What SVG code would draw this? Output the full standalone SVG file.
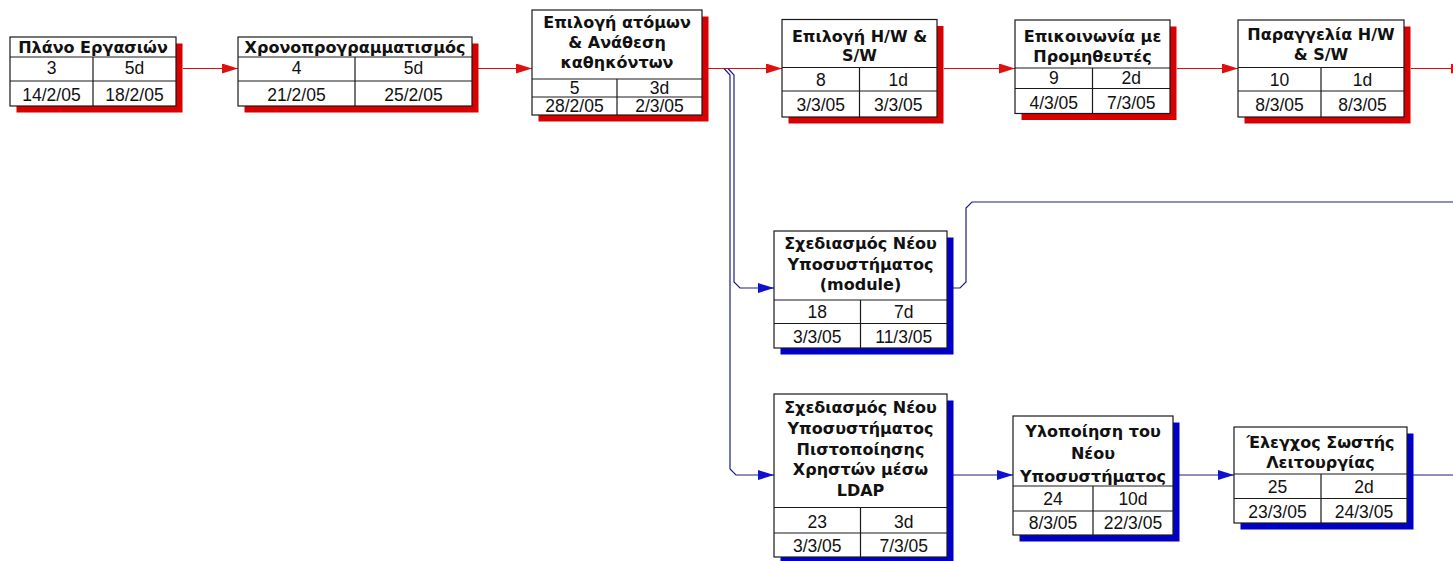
<svg xmlns="http://www.w3.org/2000/svg" width="1453" height="561" viewBox="0 0 1453 561">
  <style>
    .box { fill: #ffffff; stroke: #1a1a1a; stroke-width: 1.2; }
    .grid { fill: none; stroke: #1a1a1a; stroke-width: 1.2; }
    .rs { fill: #d80000; }
    .bs { fill: #0000c8; }
    .t { font-family: "DejaVu Sans", Verdana, sans-serif; font-weight: bold; font-size: 16px; text-anchor: middle; fill: #111; }
    .d { font-family: "Liberation Sans", Arial, sans-serif; font-size: 17.5px; text-anchor: middle; fill: #111; }
    .cr { fill: none; stroke: #d81010; stroke-width: 1.2; }
    .cb { fill: none; stroke: #1e1e80; stroke-width: 1.2; }
  </style>
  <defs>
    <marker id="arrowRed" markerUnits="userSpaceOnUse" markerWidth="17" markerHeight="11" refX="16" refY="5" orient="auto">
      <path d="M0,0 L16,5 L0,10 z" fill="#e01010"/>
    </marker>
    <marker id="arrowBlue" markerUnits="userSpaceOnUse" markerWidth="17" markerHeight="11" refX="16" refY="5" orient="auto">
      <path d="M0,0 L16,5 L0,10 z" fill="#1010d0"/>
    </marker>
  </defs>
  <rect width="1453" height="561" fill="#ffffff"/>

  <!-- connectors -->
  <g id="connectors">
    <path class="cr" d="M183 68.5 H238" marker-end="url(#arrowRed)"/>
    <path class="cr" d="M478 68.5 H532" marker-end="url(#arrowRed)"/>
    <path class="cr" d="M708 68.5 H782" marker-end="url(#arrowRed)"/>
    <path class="cr" d="M944 68.5 H1015" marker-end="url(#arrowRed)"/>
    <path class="cr" d="M1177 68.5 H1238" marker-end="url(#arrowRed)"/>
    <path class="cr" d="M1411 68.5 H1467" marker-end="url(#arrowRed)"/>
    <path class="cb" d="M728 68.5 L734 75 V282 L740 288 H774" marker-end="url(#arrowBlue)"/>
    <path class="cb" d="M724 68.5 L730 75 V469 L736 475 H774" marker-end="url(#arrowBlue)"/>
    <path class="cb" d="M953 288 H960 L966 282 V208 L972 202 H1453"/>
    <path class="cb" d="M953 475 H1013" marker-end="url(#arrowBlue)"/>
    <path class="cb" d="M1179 475 H1234" marker-end="url(#arrowBlue)"/>
    <path class="cb" d="M1413 475 H1453"/>
  </g>

  <!-- task 3 -->
  <g id="task3">
    <rect class="rs" x="16.5" y="43.5" width="166" height="69"/>
    <rect class="box" x="10" y="37" width="166" height="69"/>
    <path class="grid" d="M10 57 H176 M10 81 H176 M93 57 V106"/>
    <text class="t" x="93" y="52.5">Πλάνο Εργασιών</text>
    <text class="d" x="51.5" y="74">3</text>
    <text class="d" x="134.5" y="74">5d</text>
    <text class="d" x="51.5" y="101">14/2/05</text>
    <text class="d" x="134.5" y="101">18/2/05</text>
  </g>

  <!-- task 4 -->
  <g id="task4">
    <rect class="rs" x="244.5" y="43.5" width="234" height="69"/>
    <rect class="box" x="238" y="37" width="234" height="69"/>
    <path class="grid" d="M238 57 H472 M238 81 H472 M355 57 V106"/>
    <text class="t" x="355" y="52.5">Χρονοπρογραμματισμός</text>
    <text class="d" x="296.5" y="74">4</text>
    <text class="d" x="413.5" y="74">5d</text>
    <text class="d" x="296.5" y="101">21/2/05</text>
    <text class="d" x="413.5" y="101">25/2/05</text>
  </g>

  <!-- task 5 -->
  <g id="task5">
    <rect class="rs" x="538.5" y="16.5" width="170" height="105"/>
    <rect class="box" x="532" y="10" width="170" height="105"/>
    <path class="grid" d="M532 79 H702 M532 97 H702 M617 79 V115"/>
    <text class="t" x="617" y="27.5">Επιλογή ατόμων</text>
    <text class="t" x="617" y="47.5">&amp; Ανάθεση</text>
    <text class="t" x="617" y="68">καθηκόντων</text>
    <text class="d" x="574.5" y="93.5">5</text>
    <text class="d" x="659.5" y="93.5">3d</text>
    <text class="d" x="574.5" y="111.5">28/2/05</text>
    <text class="d" x="659.5" y="111.5">2/3/05</text>
  </g>

  <!-- task 8 -->
  <g id="task8">
    <rect class="rs" x="788.5" y="26" width="155" height="97.5"/>
    <rect class="box" x="782" y="19.5" width="155" height="97.5"/>
    <path class="grid" d="M782 67.5 H937 M782 91 H937 M859.5 67.5 V117"/>
    <text class="t" x="859.5" y="41.5">Επιλογή H/W &amp;</text>
    <text class="t" x="859.5" y="60.5">S/W</text>
    <text class="d" x="820.75" y="85.5">8</text>
    <text class="d" x="898.25" y="85.5">1d</text>
    <text class="d" x="820.75" y="111">3/3/05</text>
    <text class="d" x="898.25" y="111">3/3/05</text>
  </g>

  <!-- task 9 -->
  <g id="task9">
    <rect class="rs" x="1021.5" y="26.5" width="155" height="93.5"/>
    <rect class="box" x="1015" y="20" width="155" height="93.5"/>
    <path class="grid" d="M1015 68 H1170 M1015 88.5 H1170 M1092.5 68 V113.5"/>
    <text class="t" x="1092.5" y="41.5">Επικοινωνία με</text>
    <text class="t" x="1092.5" y="61.5">Προμηθευτές</text>
    <text class="d" x="1053.75" y="84">9</text>
    <text class="d" x="1131.25" y="84">2d</text>
    <text class="d" x="1053.75" y="109">4/3/05</text>
    <text class="d" x="1131.25" y="109">7/3/05</text>
  </g>

  <!-- task 10 -->
  <g id="task10">
    <rect class="rs" x="1244.5" y="26.5" width="166" height="97"/>
    <rect class="box" x="1238" y="20" width="166" height="97"/>
    <path class="grid" d="M1238 67.5 H1404 M1238 91 H1404 M1321 67.5 V117"/>
    <text class="t" x="1321" y="40">Παραγγελία H/W</text>
    <text class="t" x="1321" y="59.5">&amp; S/W</text>
    <text class="d" x="1279.5" y="86">10</text>
    <text class="d" x="1362.5" y="86">1d</text>
    <text class="d" x="1279.5" y="111">8/3/05</text>
    <text class="d" x="1362.5" y="111">8/3/05</text>
  </g>

  <!-- task 18 -->
  <g id="task18">
    <rect class="bs" x="780.5" y="237.5" width="173" height="117"/>
    <rect class="box" x="774" y="231" width="173" height="117"/>
    <path class="grid" d="M774 300 H947 M774 323.5 H947 M860.5 300 V348"/>
    <text class="t" x="860.5" y="249.3">Σχεδιασμός Νέου</text>
    <text class="t" x="860.5" y="269.8">Υποσυστήματος</text>
    <text class="t" x="860.5" y="290">(module)</text>
    <text class="d" x="817.25" y="318">18</text>
    <text class="d" x="903.75" y="318">7d</text>
    <text class="d" x="817.25" y="343">3/3/05</text>
    <text class="d" x="903.75" y="343">11/3/05</text>
  </g>

  <!-- task 23 -->
  <g id="task23">
    <rect class="bs" x="780.5" y="400.5" width="173" height="163"/>
    <rect class="box" x="774" y="394" width="173" height="163"/>
    <path class="grid" d="M774 507.5 H947 M774 533 H947 M860.5 507.5 V557"/>
    <text class="t" x="860.5" y="413.3">Σχεδιασμός Νέου</text>
    <text class="t" x="860.5" y="434">Υποσυστήματος</text>
    <text class="t" x="860.5" y="454.5">Πιστοποίησης</text>
    <text class="t" x="860.5" y="475.3">Χρηστών μέσω</text>
    <text class="t" x="860.5" y="496.3">LDAP</text>
    <text class="d" x="817.25" y="527.5">23</text>
    <text class="d" x="903.75" y="527.5">3d</text>
    <text class="d" x="817.25" y="551.5">3/3/05</text>
    <text class="d" x="903.75" y="551.5">7/3/05</text>
  </g>

  <!-- task 24 -->
  <g id="task24">
    <rect class="bs" x="1019.5" y="422.5" width="160" height="119"/>
    <rect class="box" x="1013" y="416" width="160" height="119"/>
    <path class="grid" d="M1013 486 H1173 M1013 511 H1173 M1093 486 V535"/>
    <text class="t" x="1093" y="436.7">Υλοποίηση του</text>
    <text class="t" x="1093" y="459.3">Νέου</text>
    <text class="t" x="1093" y="481.7">Υποσυστήματος</text>
    <text class="d" x="1053" y="504.5">24</text>
    <text class="d" x="1133" y="504.5">10d</text>
    <text class="d" x="1053" y="529">8/3/05</text>
    <text class="d" x="1133" y="529">22/3/05</text>
  </g>

  <!-- task 25 -->
  <g id="task25">
    <rect class="bs" x="1240.5" y="433.5" width="173" height="96"/>
    <rect class="box" x="1234" y="427" width="173" height="96"/>
    <path class="grid" d="M1234 474 H1407 M1234 498.5 H1407 M1321 474 V523"/>
    <text class="t" x="1320.5" y="447.7">Έλεγχος Σωστής</text>
    <text class="t" x="1320.5" y="468.3">Λειτουργίας</text>
    <text class="d" x="1277.5" y="493">25</text>
    <text class="d" x="1364" y="493">2d</text>
    <text class="d" x="1277.5" y="517.5">23/3/05</text>
    <text class="d" x="1364" y="517.5">24/3/05</text>
  </g>
</svg>
